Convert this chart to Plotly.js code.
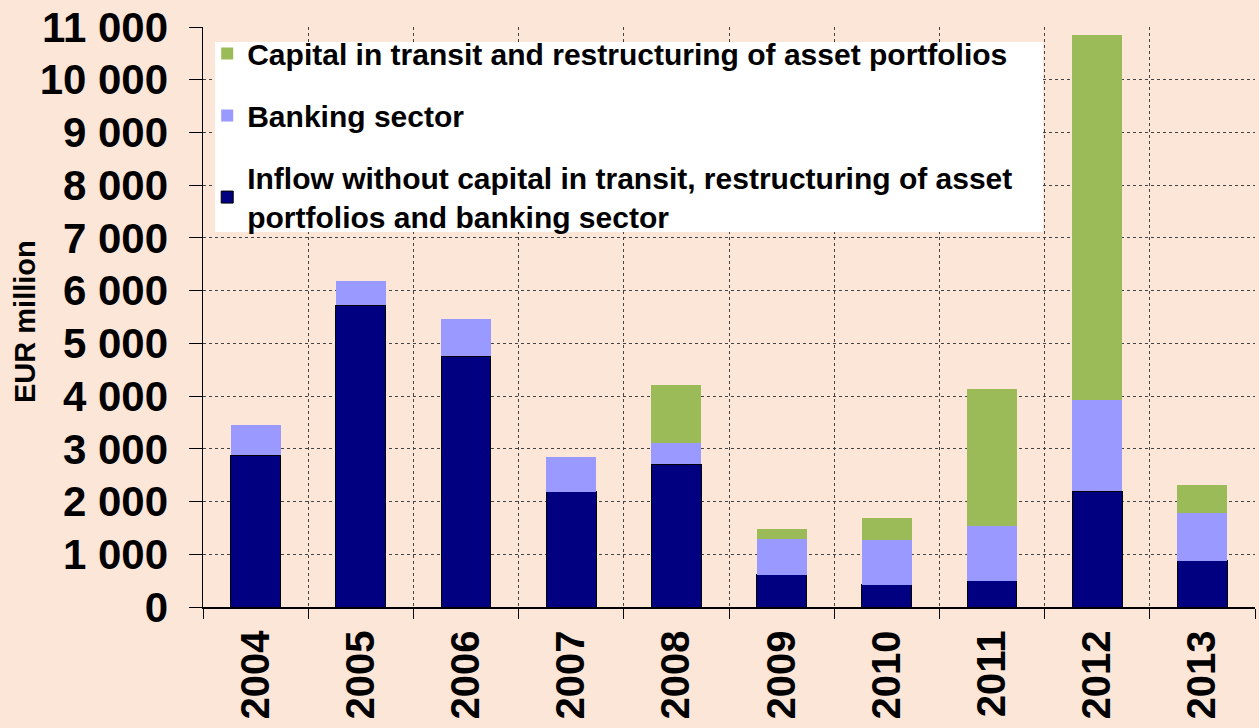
<!DOCTYPE html>
<html>
<head>
<meta charset="utf-8">
<script src="https://cdn.plot.ly/plotly-3.0.1.min.js"></script>
<style>
html,body{margin:0;padding:0;background:#FCE6D8;}
#chart{width:1259px;height:728px;}
</style>
</head>
<body>
<div id="chart"></div>
<script>
const years = ["2004","2005","2006","2007","2008","2009","2010","2011","2012","2013"];
const inflowCore = [2880, 5720, 4760, 2190, 2710, 615, 420, 500, 2200, 877];
const banking = [570, 460, 700, 660, 400, 675, 855, 1030, 1720, 908];
const transit = [0, 0, 0, 0, 1100, 195, 405, 2600, 6930, 531];
const yTickVals = [0,1000,2000,3000,4000,5000,6000,7000,8000,9000,10000,11000];
const yTickText = ["0","1 000","2 000","3 000","4 000","5 000","6 000","7 000","8 000","9 000","10 000","11 000"];

const legendFont = {family: "Liberation Sans Narrow, Arial Narrow, Liberation Sans, Arial, sans-serif", size: 30, color: "#000", weight: "bold"};

const traces = [
  {type: "bar", x: years, y: inflowCore, name: "<b>Inflow without capital in transit, restructuring of asset<br>portfolios and banking sector</b>",
   marker: {color: "#000080", line: {color: "#000", width: 1}}, legendgroup: "a", legendrank: 3},
  {type: "bar", x: years, y: banking, name: "<b>Banking sector</b>",
   marker: {color: "#9999FF", line: {width: 0}}, legendgroup: "b", legendrank: 2},
  {type: "bar", x: years, y: transit, name: "<b>Capital in transit and restructuring of asset portfolios</b>",
   marker: {color: "#9BBB59", line: {width: 0}}, legendgroup: "c", legendrank: 1}
];

const layout = {
  width: 1259, height: 728,
  paper_bgcolor: "#FCE6D8", plot_bgcolor: "#FCE6D8",
  margin: {l: 203, r: 4, t: 27, b: 121},
  barmode: "stack", bargap: 0.525,
  showlegend: true,
  hovermode: false,
  font: {family: "Liberation Sans, Arial, sans-serif", color: "#000"},
  xaxis: {
    type: "category", tickson: "boundaries",
    showgrid: true, gridcolor: "#444", griddash: "dot", gridwidth: 1,
    showline: true, linecolor: "#000", linewidth: 1.5,
    ticks: "outside", ticklen: 10, tickcolor: "#000",
    tickangle: -90, ticklabelstandoff: 6,
    tickfont: {family: "Liberation Sans, Arial, sans-serif", size: 40, color: "#000", weight: "bold"},
    zeroline: false
  },
  yaxis: {
    range: [0, 11000], tickvals: yTickVals, ticktext: yTickText,
    showgrid: true, gridcolor: "#444", griddash: "dot", gridwidth: 1,
    showline: true, linecolor: "#000", linewidth: 1.5,
    ticks: "outside", ticklen: 13, tickcolor: "#000",
    ticklabelstandoff: 12,
    tickfont: {family: "Liberation Sans, Arial, sans-serif", size: 42, color: "#000", weight: "bold"},
    zeroline: false
  },
  annotations: [
    {text: "<b>EUR million</b>", xref: "paper", yref: "paper", x: (25-203)/1052, y: (607-322)/580,
     xanchor: "center", yanchor: "middle", textangle: -90, showarrow: false,
     font: {family: "Liberation Sans, Arial, sans-serif", size: 29, color: "#000"}}
  ],
  shapes: [
    {type: "rect", xref: "paper", yref: "paper", x0: 0.0114, x1: 0.7985, y0: (607-232)/580, y1: (607-42)/580,
     fillcolor: "#FFFFFF", line: {width: 0}, layer: "above"}
  ],
  legend: {
    x: 0.004, y: 0.999, xanchor: "left", yanchor: "top",
    bgcolor: "rgba(0,0,0,0)", borderwidth: 0,
    font: legendFont, traceorder: "grouped", tracegroupgap: 20,
    itemwidth: 30
  }
};

Plotly.newPlot("chart", traces, layout, {displayModeBar: false, staticPlot: true});
</script>
</body>
</html>
